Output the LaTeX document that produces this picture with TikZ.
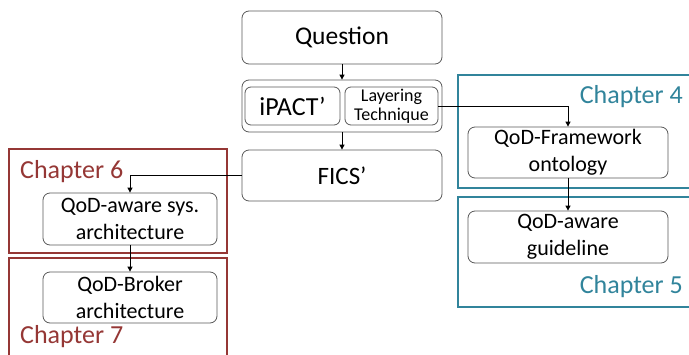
\documentclass[tikz,border=0pt]{standalone}
\usepackage{fontspec}
\setmainfont{Carlito}
\usetikzlibrary{arrows.meta}
\definecolor{tealc}{HTML}{31849B}
\definecolor{redc}{HTML}{953735}
\definecolor{boxline}{HTML}{595959}
\tikzset{
  box/.style={draw=boxline, line width=0.8pt, rounded corners=7pt, fill=white,
    align=center, inner sep=0pt, font=\fontsize{22}{27}\selectfont},
  chapbox/.style={line width=2.6pt},
  link/.style={line width=0.9pt, -{Triangle[width=5pt,length=5pt]}},
  chaptext/.style={font=\fontsize{26}{30}\selectfont, inner sep=0pt}
}
\begin{document}
\begin{tikzpicture}[x=1pt,y=-1pt]
\useasboundingbox (0,0) rectangle (689,354);
\clip (0,0) rectangle (689,354);
% chapter frames
\draw[chapbox, draw=tealc] (458,75) rectangle (700,188);
\draw[chapbox, draw=tealc] (458,197) rectangle (700,307);
\draw[chapbox, draw=redc] (9,149) rectangle (227,253);
\draw[chapbox, draw=redc] (9,258) rectangle (227,370);
\node[chaptext, text=tealc, anchor=east] (c4) at (683,97) {Chapter 4};
\node[chaptext, text=tealc, anchor=east] (c5) at (683,287) {Chapter 5};
\node[chaptext, text=redc, anchor=west] (c6) at (20,172) {Chapter 6};
\node[chaptext, text=redc, anchor=west] (c7) at (20,337) {Chapter 7};
% central column
\node[box, minimum width=200pt, minimum height=53pt, font=\fontsize{25.5}{30}\selectfont] (q) at (342,37.5) {Question};
\node[box, minimum width=200pt, minimum height=52pt] (grp) at (342,106) {};
\node[box, rounded corners=6pt, minimum width=95pt, minimum height=38pt, font=\fontsize{26}{30}\selectfont] (ip) at (292.5,106) {iPACT’};
\node[box, rounded corners=6pt, minimum width=93pt, minimum height=38pt, font=\fontsize{18}{19}\selectfont] (lay) at (391.5,106) {Layering\\Technique};
\node[box, minimum width=200pt, minimum height=51pt, font=\fontsize{25}{29}\selectfont] (fics) at (342,175.5) {FICS’};
% chapter contents
\node[box, minimum width=200pt, minimum height=51pt] (fw) at (568,152.5) {QoD-Framework\\ontology};
\node[box, minimum width=200pt, minimum height=52pt] (gl) at (568,237) {QoD-aware\\guideline};
\node[box, minimum width=174pt, minimum height=52pt] (sys) at (130,219) {QoD-aware sys.\\architecture};
\node[box, minimum width=174pt, minimum height=51pt] (brk) at (130,297.5) {QoD-Broker\\architecture};
% connectors
\draw[link] (q) -- (grp);
\draw[link] (grp) -- (fics);
\draw[link] (lay.east) -| (fw.north);
\draw[link] (fw) -- (gl);
\draw[link] (fics.west) -| (sys.north);
\draw[link] (sys) -- (brk);
\end{tikzpicture}
\end{document}
